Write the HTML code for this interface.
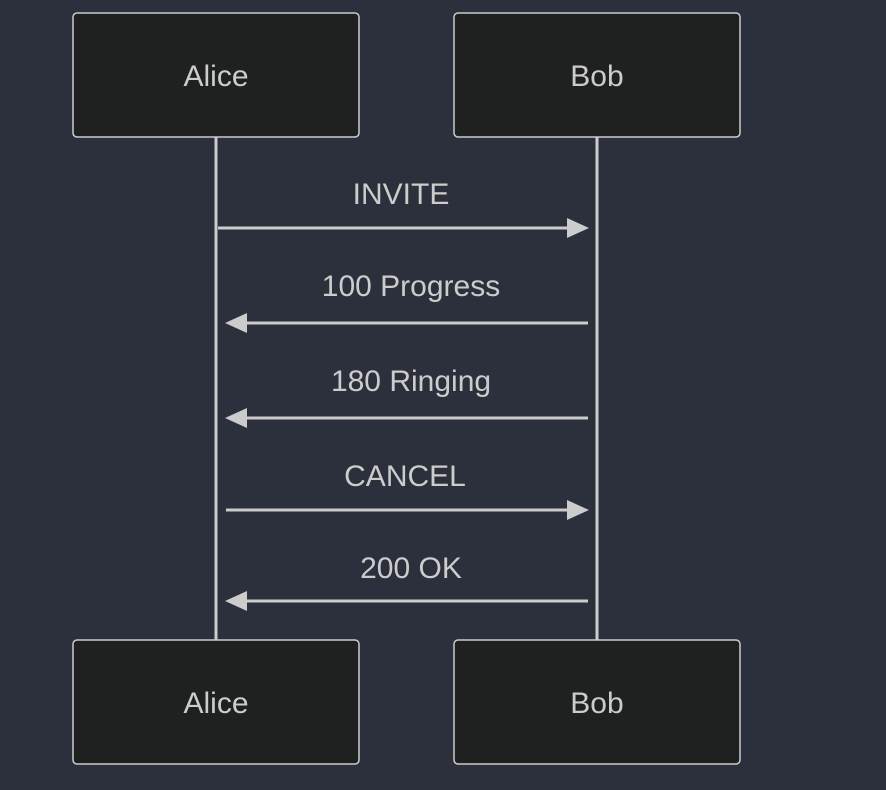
<!DOCTYPE html>
<html><head><style>html,body{margin:0;padding:0;background:#2b303c;}</style></head>
<body>
<svg width="886" height="790" xmlns="http://www.w3.org/2000/svg" style="display:block">
<rect width="886" height="790" fill="#2b303c"/>
<g stroke="#cccccc" stroke-width="3">
<line x1="216" y1="137" x2="216" y2="640"/>
<line x1="597" y1="137" x2="597" y2="640"/>
</g>
<g fill="#1f2020" stroke="#cccccc" stroke-width="1.5">
<rect x="73" y="13" width="286" height="124" rx="4"/>
<rect x="454" y="13" width="286" height="124" rx="4"/>
<rect x="73" y="640" width="286" height="124" rx="4"/>
<rect x="454" y="640" width="286" height="124" rx="4"/>
</g>
<g font-family="Liberation Sans, sans-serif" font-size="30" fill="#cccccc" text-anchor="middle">
<text x="216" y="86">Alice</text><text x="597" y="86">Bob</text>
<text x="216" y="713">Alice</text><text x="597" y="713">Bob</text>
<text x="401" y="204">INVITE</text>
<text x="411" y="296">100 Progress</text>
<text x="411" y="391">180 Ringing</text>
<text x="405" y="486">CANCEL</text>
<text x="411" y="578">200 OK</text>
</g>
<g stroke="#cccccc" stroke-width="3">
<line x1="218" y1="228" x2="570" y2="228"/>
<line x1="244" y1="323" x2="588" y2="323"/>
<line x1="244" y1="418" x2="588" y2="418"/>
<line x1="226" y1="510" x2="570" y2="510"/>
<line x1="244" y1="601" x2="588" y2="601"/>
</g>
<g fill="#cccccc">
<polygon points="567,218 589,228 567,238"/>
<polygon points="247,313 225,323 247,333"/>
<polygon points="247,408 225,418 247,428"/>
<polygon points="567,500 589,510 567,520"/>
<polygon points="247,591 225,601 247,611"/>
</g>
</svg>
</body></html>
